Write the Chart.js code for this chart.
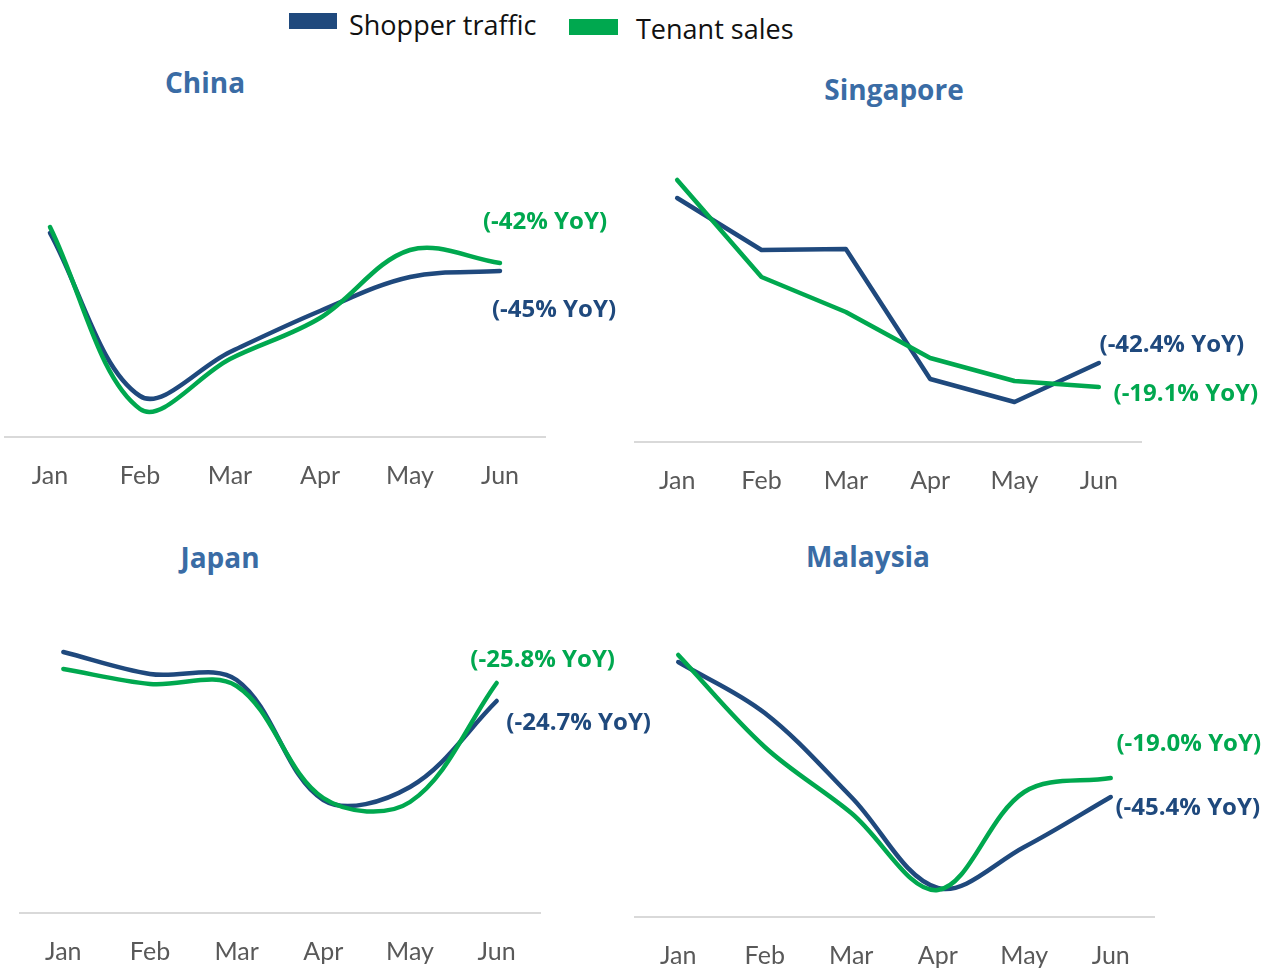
<!DOCTYPE html>
<html>
<head>
<meta charset="utf-8">
<script src="https://cdn.jsdelivr.net/npm/chart.js@4/dist/chart.umd.min.js"></script>
<style>
html,body{margin:0;padding:0;background:#fff;width:1263px;height:969px;overflow:hidden;position:relative;}
canvas{position:absolute;left:0;top:0;}
.title{position:absolute;font-family:'Open Sans',sans-serif;font-weight:700;font-size:28px;color:#3A6CA5;transform:translate(-50%,-50%);white-space:nowrap;line-height:1;}
.lgbox{position:absolute;}
.lgtxt{position:absolute;font-family:'Open Sans',sans-serif;font-size:27px;color:#111;transform:translateY(-50%);white-space:nowrap;line-height:1;}
</style>
</head>
<body>
<div class="lgbox" style="left:289px;top:13px;width:48px;height:16px;background:#1F497D"></div>
<div class="lgtxt" style="left:349px;top:24px">Shopper traffic</div>
<div class="lgbox" style="left:569px;top:19px;width:49px;height:16px;background:#00A84F"></div>
<div class="lgtxt" style="left:636px;top:28px">Tenant sales</div>

<div class="title" style="left:205px;top:82px">China</div>
<div class="title" style="left:894px;top:89px">Singapore</div>
<div class="title" style="left:220px;top:557px">Japan</div>
<div class="title" style="left:868px;top:556px">Malaysia</div>

<canvas id="cChina" width="1263" height="969"></canvas>
<canvas id="cSingapore" width="1263" height="969"></canvas>
<canvas id="cJapan" width="1263" height="969"></canvas>
<canvas id="cMalaysia" width="1263" height="969"></canvas>

<script>
// ---- data (index values; no y axis shown) ----
const months = ['Jan', 'Feb', 'Mar', 'Apr', 'May', 'Jun'];

const chinaTraffic = [204, 41, 85, 126, 160, 166];
const chinaSales   = [210, 28, 78, 119, 187, 174];
const chinaYoY     = ['(-45% YoY)', '(-42% YoY)'];

const singaporeTraffic = [244, 192, 193, 63, 40, 79];
const singaporeSales   = [262, 165, 130, 84, 61, 55];
const singaporeYoY     = ['(-42.4% YoY)', '(-19.1% YoY)'];

const japanTraffic = [261, 239, 233, 113, 126, 212];
const japanSales   = [244, 229, 227, 115, 111, 230];
const japanYoY     = ['(-24.7% YoY)', '(-25.8% YoY)'];

const malaysiaTraffic = [255, 204, 120, 29, 70, 120];
const malaysiaSales   = [262, 170, 104, 27, 125, 139];
const malaysiaYoY     = ['(-45.4% YoY)', '(-19.0% YoY)'];

const seriesNames = ['Shopper traffic', 'Tenant sales'];

// ---- styles / layout ----
const BLUE = '#1F497D';
const GREEN = '#00A84F';
const W = 1263, H = 969, XH = 60, YMAX = 300;

const panels = [
  { id: 'cChina', traffic: chinaTraffic, sales: chinaSales, yoy: chinaYoY,
    left: 5, right: 545, axis: 437, tension: 0.35,
    off: [{dx: 54, dy: 39}, {dx: 45, dy: -41}] },
  { id: 'cSingapore', traffic: singaporeTraffic, sales: singaporeSales, yoy: singaporeYoY,
    left: 635, right: 1141, axis: 442, tension: 0,
    off: [{dx: 73, dy: -18}, {dx: 87, dy: 7}] },
  { id: 'cJapan', traffic: japanTraffic, sales: japanSales, yoy: japanYoY,
    left: 20, right: 540, axis: 913, tension: 0.35,
    off: [{dx: 82, dy: 22}, {dx: 46, dy: -23}] },
  { id: 'cMalaysia', traffic: malaysiaTraffic, sales: malaysiaSales, yoy: malaysiaYoY,
    left: 635, right: 1154, axis: 917, tension: 0.35,
    off: [{dx: 77, dy: 11}, {dx: 78, dy: -34}] }
];

const yoyPlugin = {
  id: 'yoy',
  afterDatasetsDraw(chart, args, opts) {
    const ctx = chart.ctx;
    (opts.items || []).forEach(it => {
      const meta = chart.getDatasetMeta(it.ds);
      const pt = meta.data[meta.data.length - 1];
      ctx.save();
      ctx.font = "700 24px 'Open Sans', sans-serif";
      ctx.fillStyle = it.color;
      ctx.textAlign = 'center';
      ctx.textBaseline = 'middle';
      ctx.fillText(it.text, pt.x + it.dx, pt.y + it.dy);
      ctx.restore();
    });
  }
};

panels.forEach(p => {
  const colors = [BLUE, GREEN];
  new Chart(document.getElementById(p.id), {
    type: 'line',
    data: {
      labels: months,
      datasets: [
        { label: seriesNames[0], data: p.traffic, borderColor: BLUE, backgroundColor: BLUE,
          borderWidth: 4.5, pointRadius: 0, tension: p.tension, fill: false,
          borderCapStyle: 'round', borderJoinStyle: 'round', order: 1 },
        { label: seriesNames[1], data: p.sales, borderColor: GREEN, backgroundColor: GREEN,
          borderWidth: 4.5, pointRadius: 0, tension: p.tension, fill: false,
          borderCapStyle: 'round', borderJoinStyle: 'round', order: 0 }
      ]
    },
    options: {
      responsive: false,
      animation: false,
      events: [],
      layout: { padding: { left: p.left, right: W - p.right, top: p.axis - YMAX, bottom: H - p.axis - XH } },
      plugins: {
        legend: { display: false },
        tooltip: { enabled: false },
        yoy: { items: p.yoy.map((t, i) => ({ ds: i, text: t, color: colors[i], dx: p.off[i].dx, dy: p.off[i].dy })) }
      },
      scales: {
        x: {
          offset: true,
          grid: { display: false, drawTicks: false },
          border: { display: true, color: '#D9D9D9', width: 2 },
          ticks: { color: '#595959', font: { family: 'Lato', size: 25 }, padding: 24, maxRotation: 0, autoSkip: false },
          afterFit(s) { s.height = XH; }
        },
        y: { display: false, min: 0, max: YMAX }
      }
    },
    plugins: [yoyPlugin]
  });
});
</script>
</body>
</html>
